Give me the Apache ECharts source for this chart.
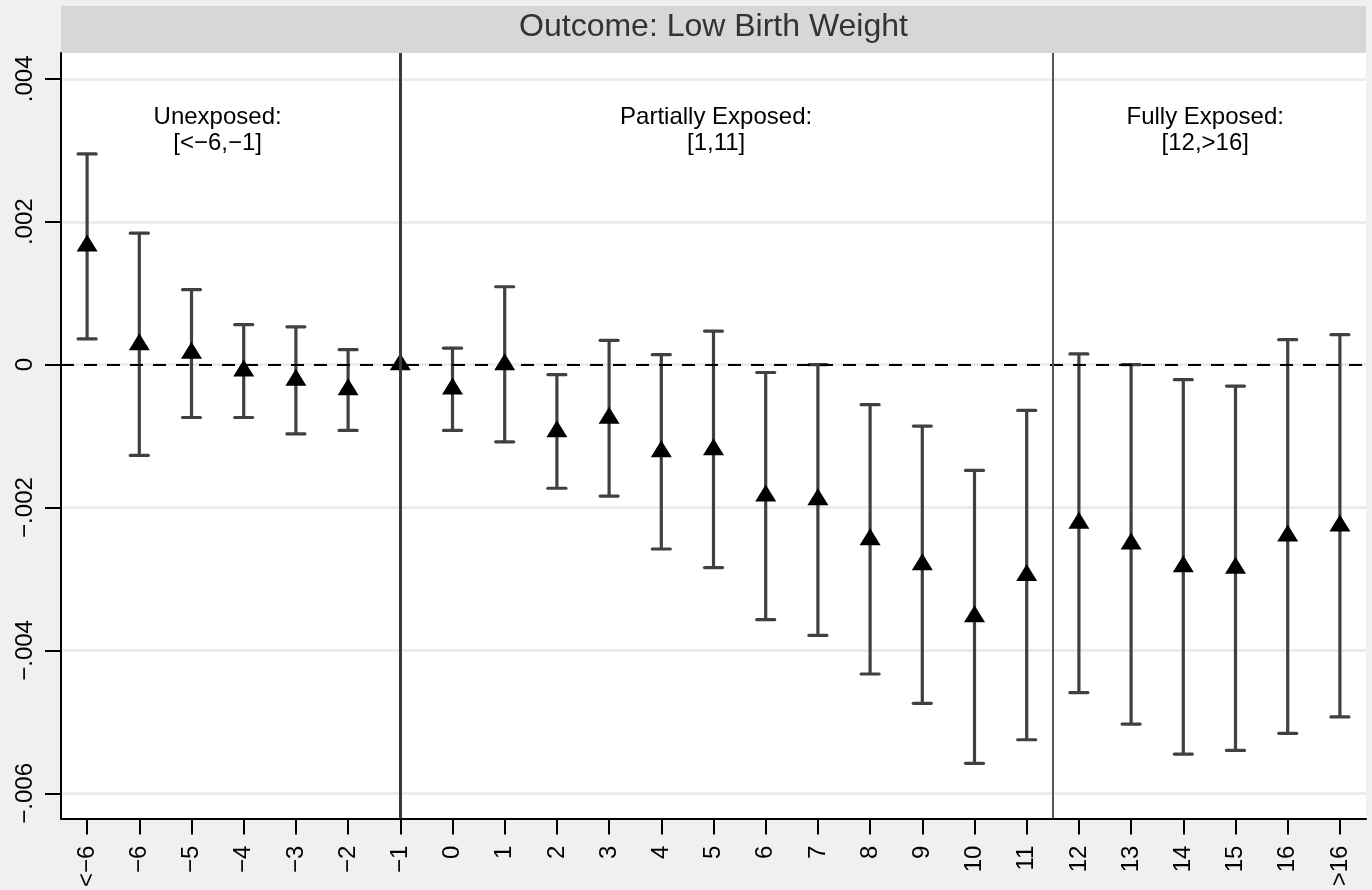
<!DOCTYPE html>
<html>
<head>
<meta charset="utf-8">
<script src="https://cdn.jsdelivr.net/npm/echarts@6/dist/echarts.min.js"></script>
<style>
  html, body { margin: 0; padding: 0; background: #f0f0f0; }
  #chart { width: 1372px; height: 890px; }
</style>
</head>
<body>
<div id="chart"></div>
<script>
// ---- data ----
const categories = ['<−6', '−6', '−5', '−4', '−3', '−2', '−1', '0', '1', '2', '3', '4', '5', '6', '7', '8', '9', '10', '11', '12', '13', '14', '15', '16', '>16'];
const estimates = [0.00166, 0.00028, 0.00016, -0.00009, -0.00022, -0.00035, 0, -0.00034, 0.00000, -0.00094, -0.00075, -0.00122, -0.00119, -0.00184, -0.00189, -0.00245, -0.00280, -0.00353, -0.00295, -0.00222, -0.00251, -0.00283, -0.00285, -0.00240, -0.00226];
const ciLower = [0.00036, -0.00127, -0.00074, -0.00074, -0.00097, -0.00092, null, -0.00092, -0.00108, -0.00173, -0.00184, -0.00258, -0.00284, -0.00357, -0.00379, -0.00433, -0.00474, -0.00558, -0.00525, -0.00459, -0.00503, -0.00545, -0.00540, -0.00516, -0.00493];
const ciUpper = [0.00295, 0.00184, 0.00105, 0.00056, 0.00053, 0.00021, null, 0.00023, 0.00109, -0.00014, 0.00034, 0.00014, 0.00047, -0.00011, 0.00000, -0.00056, -0.00086, -0.00148, -0.00064, 0.00015, 0.00000, -0.00021, -0.00030, 0.00035, 0.00042];
const yTicks = [-0.006, -0.004, -0.002, 0, 0.002, 0.004];
const yMin = -0.006354;
const yMax = 0.004362;
const titleText = 'Outcome: Low Birth Weight';
const periodLabels = ['Unexposed:\n[<−6,−1]', 'Partially Exposed:\n[1,11]', 'Fully Exposed:\n[12,>16]'];
const periodCenters = [2.5, 12.05, 21.42];   // category index of each label centre
const periodLabelY = 0.00328;
const dividers = [6, 18.5];                  // category index of vertical lines

// ---- chart ----
const FONT = "'Liberation Sans', Arial, Helvetica, sans-serif";
const chart = echarts.init(document.getElementById('chart'), null, { renderer: 'canvas' });

function fmtY(v) {
  if (Math.abs(v) < 1e-12) return '0';
  const s = Math.abs(v).toFixed(3).replace(/^0/, '');
  return (v < 0 ? '−' : '') + s;
}

const errData = [];
categories.forEach((c, i) => {
  if (ciLower[i] != null && ciUpper[i] != null) errData.push([i, ciLower[i], ciUpper[i]]);
});

const option = {
  backgroundColor: '#f0f0f0',
  animation: false,
  grid: {
    left: 61, right: 6, top: 53, bottom: 68,
    show: true, backgroundColor: '#ffffff', borderWidth: 0
  },
  graphic: [
    { type: 'rect', z: 0, shape: { x: 61, y: 6, width: 1305, height: 47 }, style: { fill: '#d7d7d7' } },
    { type: 'text', z: 1, x: 713.5, y: 27, style: { text: titleText, fill: '#333333', font: '32px ' + FONT, textAlign: 'center', textVerticalAlign: 'middle' } }
  ],
  xAxis: [
    {
      type: 'category',
      data: categories,
      boundaryGap: true,
      axisLine: { show: true, onZero: false, lineStyle: { color: '#000', width: 2 } },
      axisTick: { show: true, alignWithLabel: true, length: 16, lineStyle: { color: '#000', width: 2 } },
      axisLabel: { rotate: 90, margin: 27, color: '#000', fontSize: 24, fontFamily: FONT, interval: 0 },
      splitLine: { show: false }
    },
    {
      type: 'value',
      min: -0.5, max: categories.length - 0.5,
      show: false,
      axisLine: { onZero: false },
      splitLine: { show: false }
    }
  ],
  yAxis: {
    type: 'value',
    min: yMin, max: yMax,
    axisLine: { show: true, onZero: false, lineStyle: { color: '#000', width: 2 } },
    axisTick: { show: true, length: 16, customValues: yTicks, lineStyle: { color: '#000', width: 2 } },
    axisLabel: { rotate: 90, margin: 24, customValues: yTicks, color: '#000', fontSize: 24, fontFamily: FONT, formatter: fmtY },
    splitLine: { show: true, lineStyle: { color: '#ececec', width: 3 } }
  },
  series: [
    {
      type: 'line',
      xAxisIndex: 1,
      data: [],
      silent: true,
      markLine: {
        silent: true,
        symbol: 'none',
        label: { show: false },
        data: [
          { yAxis: 0, lineStyle: { color: '#000', width: 2, type: [13, 10] } },
          { xAxis: dividers[0], lineStyle: { color: '#3a3a3a', width: 3, type: 'solid' } },
          { xAxis: dividers[1], lineStyle: { color: '#555555', width: 2, type: 'solid' } }
        ]
      }
    },
    {
      type: 'custom',
      data: errData,
      encode: { x: 0, y: [1, 2] },
      z: 3,
      renderItem: function (params, api) {
        const x = api.value(0);
        const lo = api.coord([x, api.value(1)]);
        const hi = api.coord([x, api.value(2)]);
        const hw = 9;
        const st = { stroke: '#404040', lineWidth: 3.2, lineCap: 'round' };
        return {
          type: 'group',
          children: [
            { type: 'line', shape: { x1: hi[0], y1: hi[1], x2: lo[0], y2: lo[1] }, style: { stroke: '#404040', lineWidth: 3.2 } },
            { type: 'line', shape: { x1: hi[0] - hw, y1: hi[1], x2: hi[0] + hw, y2: hi[1] }, style: st },
            { type: 'line', shape: { x1: lo[0] - hw, y1: lo[1], x2: lo[0] + hw, y2: lo[1] }, style: st }
          ]
        };
      }
    },
    {
      type: 'scatter',
      data: estimates.map((v, i) => [i, v]),
      symbol: 'triangle',
      symbolSize: [21, 17],
      symbolOffset: [0, -3],
      itemStyle: { color: '#000000', opacity: 1 },
      z: 4
    },
    {
      type: 'scatter',
      xAxisIndex: 1,
      silent: true,
      data: periodLabels.map((t, i) => ({ name: t, value: [periodCenters[i], periodLabelY] })),
      symbolSize: 0,
      itemStyle: { color: 'transparent', opacity: 1 },
      label: {
        show: true, position: 'inside', formatter: '{b}',
        color: '#000', fontSize: 24, fontFamily: FONT, lineHeight: 26, align: 'center', verticalAlign: 'middle'
      },
      z: 5
    }
  ]
};
chart.setOption(option);
</script>
</body>
</html>
